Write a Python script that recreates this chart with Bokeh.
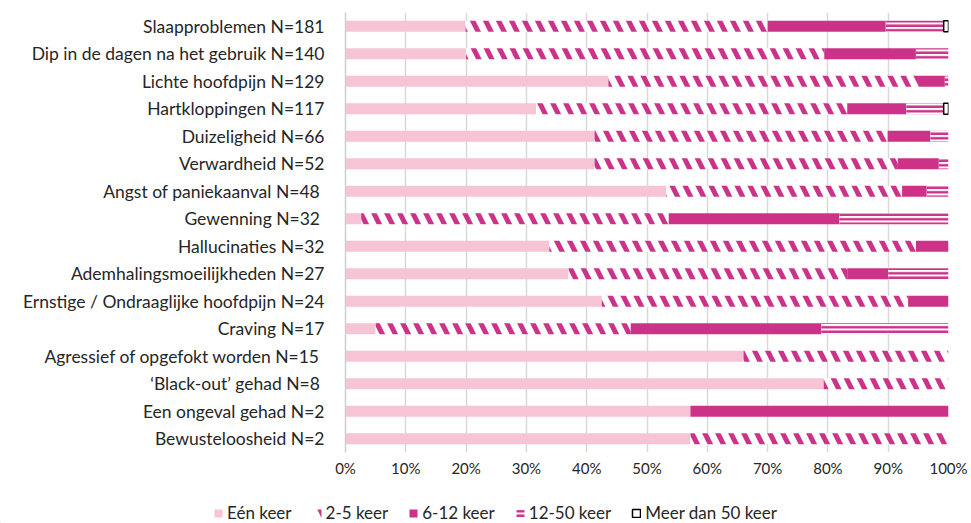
import numpy as np
from bokeh.plotting import figure
from bokeh.models import (ColumnDataSource, FactorRange, Range1d, FixedTicker,
                          PrintfTickFormatter, Legend, LegendItem)
from bokeh.embed import file_html
from bokeh.resources import INLINE

categories = [
    "Slaapproblemen N=181",
    "Dip in de dagen na het gebruik N=140",
    "Lichte hoofdpijn N=129",
    "Hartkloppingen N=117",
    "Duizeligheid N=66",
    "Verwardheid N=52",
    "Angst of paniekaanval  N=48",
    "Gewenning  N=32",
    "Hallucinaties N=32",
    "Ademhalingsmoeilijkheden N=27",
    "Ernstige / Ondraaglijke hoofdpijn N=24",
    "Craving N=17",
    "Agressief of opgefokt worden  N=15",
    "\u2018Black-out\u2019 gehad  N=8",
    "Een ongeval gehad N=2",
    "Bewusteloosheid N=2",
]
een_keer   = [19.9, 20.0, 43.6, 31.6, 41.3, 41.3, 53.2,  2.6, 33.8, 37.0, 42.5,  5.0, 66.0, 79.3, 57.2, 57.2]
keer_2_5   = [50.1, 59.4, 51.5, 51.6, 48.6, 50.3, 39.1, 51.0, 60.8, 46.2, 50.8, 42.3, 34.0, 20.7,  0.0, 42.8]
keer_6_12  = [19.6, 15.2,  4.3,  9.8,  7.1,  6.8,  4.1, 28.3,  5.4,  6.8,  6.7, 31.6,  0.0,  0.0, 42.8,  0.0]
keer_12_50 = [ 9.6,  5.4,  0.6,  6.2,  3.0,  1.6,  3.6, 18.1,  0.0, 10.0,  0.0, 21.1,  0.0,  0.0,  0.0,  0.0]
meer_50    = [ 0.8,  0.0,  0.0,  0.8,  0.0,  0.0,  0.0,  0.0,  0.0,  0.0,  0.0,  0.0,  0.0,  0.0,  0.0,  0.0]
series_names = ["E\u00e9n keer", "2-5 keer", "6-12 keer", "12-50 keer", "Meer dan 50 keer"]
x_ticks = [0, 10, 20, 30, 40, 50, 60, 70, 80, 90, 100]

PINK = "#F7C4D5"
MAGENTA = "#CC3388"
FONT = "Lato"
TXT = "#262626"

values = np.array([een_keer, keer_2_5, keer_6_12, keer_12_50, meer_50])
rights = np.cumsum(values, axis=0)
lefts = rights - values

p = figure(y_range=FactorRange(factors=categories[::-1]), x_range=Range1d(0, 100),
           frame_width=603, frame_height=440,
           min_border_left=345, min_border_right=22, min_border_top=12, min_border_bottom=33,
           output_backend="svg", toolbar_location=None)

styles = [
    dict(fill_color=PINK, line_color=None),
    dict(fill_color="white", line_color=None, hatch_pattern="\\", hatch_color=MAGENTA,
         hatch_scale=26, hatch_weight=5),
    dict(fill_color=MAGENTA, line_color=None),
    dict(fill_color="white", line_color=None, hatch_pattern="-", hatch_color=MAGENTA,
         hatch_scale=4.5, hatch_weight=2.5),
    dict(fill_color="white", line_color="black", line_width=1.5),
]

# separate legend strip (its swatches sit outside its visible range)
lg = figure(width=970, height=38, x_range=Range1d(0, 1), y_range=Range1d(0, 1),
            min_border=0, output_backend="svg", toolbar_location=None)
lg.axis.visible = False
lg.grid.grid_line_color = None
lg.outline_line_color = None

items = []
for i, name in enumerate(series_names):
    mask = values[i] > 0
    src = ColumnDataSource(dict(
        y=[c for c, m in zip(categories, mask) if m],
        left=lefts[i][mask], right=rights[i][mask]))
    p.hbar(y="y", left="left", right="right", height=0.4, source=src, **styles[i])
    swatch = ColumnDataSource(dict(y=[-5.0], left=[-5.0], right=[-4.0]))
    r = lg.hbar(y="y", left="left", right="right", height=0.4, source=swatch, **styles[i])
    items.append(LegendItem(label=name, renderers=[r]))

p.xgrid.ticker = FixedTicker(ticks=x_ticks)
p.xgrid.grid_line_color = "#d9d9d9"
p.xgrid.grid_line_width = 1.5
p.ygrid.grid_line_color = None
p.outline_line_color = None

p.xaxis.ticker = FixedTicker(ticks=x_ticks)
p.xaxis.formatter = PrintfTickFormatter(format="%d%%")
p.xaxis.axis_line_color = None
p.xaxis.major_tick_line_color = None
p.xaxis.minor_tick_line_color = None
p.xaxis.major_tick_out = 0
p.xaxis.major_label_standoff = 6
p.xaxis.major_label_text_font = FONT
p.xaxis.major_label_text_font_size = "15px"
p.xaxis.major_label_text_color = TXT

p.yaxis.axis_line_color = "#cfcfcf"
p.yaxis.axis_line_width = 1.5
p.yaxis.major_tick_line_color = None
p.yaxis.major_tick_out = 0
p.yaxis.major_label_standoff = 21
p.yaxis.major_label_text_font = FONT
p.yaxis.major_label_text_font_size = "17.5px"
p.yaxis.major_label_text_color = TXT

legend = Legend(items=items, orientation="horizontal", location=(213, 0),
                glyph_width=10, glyph_height=10, label_standoff=4, spacing=20,
                padding=0, margin=0, border_line_color=None, background_fill_alpha=0,
                label_text_font=FONT, label_text_font_size="17px", label_text_color=TXT)
lg.add_layout(legend, "center")

open("out.html", "w").write(file_html([p, lg], INLINE))
